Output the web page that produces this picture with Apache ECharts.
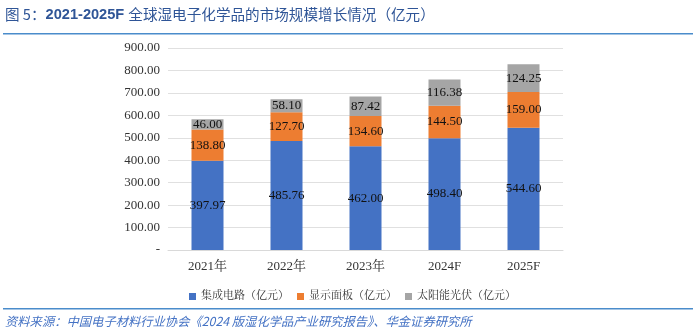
<!DOCTYPE html>
<html><head><meta charset="utf-8">
<script src="https://cdn.jsdelivr.net/npm/echarts@6/dist/echarts.min.js"></script>
<style>html,body{margin:0;padding:0;background:#fff}#c{width:697px;height:336px}</style>
</head><body><div id="c"></div>
<script>
const categories = ['2021年','2022年','2023年','2024F','2025F'];
const seriesNames = ['集成电路（亿元）','显示面板（亿元）','太阳能光伏（亿元）'];
const icValues = [397.97, 485.76, 462.00, 498.40, 544.60];
const panelValues = [138.80, 127.70, 134.60, 144.50, 159.00];
const pvValues = [46.00, 58.10, 87.42, 116.38, 124.25];
const yTicks = {min: 0, max: 900, interval: 100};
const colors = ['#4472C4','#ED7D31','#A5A5A5'];
const serif = '"Liberation Serif","Noto Serif CJK SC","Noto Sans CJK SC",serif';
const chart = echarts.init(document.getElementById('c'));
const lbl = {show:true, position:'inside', color:'#111', fontFamily:serif, fontSize:13, formatter: p => p.value.toFixed(2)};
const mk = (name, data, i) => ({name, type:'bar', stack:'s', data, barWidth:32, itemStyle:{color:colors[i]}, label:lbl});
chart.setOption({
  animation:false,
  grid:{left:168, right:134, top:48, bottom:86},
  legend:{left:291-107, top:286, itemWidth:7, itemHeight:7, itemGap:8, icon:'rect',
    textStyle:{fontFamily:serif, fontSize:11, color:'#333'},
    data:seriesNames},
  xAxis:{type:'category', data:categories, axisTick:{show:false},
    axisLine:{lineStyle:{color:'#d9d9d9'}},
    axisLabel:{fontFamily:serif, fontSize:13, color:'#333', margin:10}},
  yAxis:{type:'value', min:yTicks.min, max:yTicks.max, interval:yTicks.interval,
    axisLine:{show:false}, axisTick:{show:false},
    splitLine:{lineStyle:{color:'#e0e0e0'}},
    axisLabel:{fontFamily:serif, fontSize:13, color:'#333', margin:8,
      formatter: v => v === 0 ? '-' : v.toFixed(2)}},
  series:[mk(seriesNames[0], icValues, 0), mk(seriesNames[1], panelValues, 1), mk(seriesNames[2], pvValues, 2)],
  graphic:[
    {type:'text', left:5, top:7, style:{text:'{a|图 5：}{b|2021-2025F }{a|全球湿电子化学品的市场规模增长情况（亿元）}',
      rich:{a:{fontFamily:'"Noto Sans CJK SC",sans-serif', fontSize:14.6, fill:'#2f5597'},
            b:{fontFamily:'"Liberation Sans",sans-serif', fontSize:14.6, fontWeight:'bold', fill:'#2f5597'}}}},
    {type:'rect', shape:{x:3, y:33, width:690, height:1.5}, style:{fill:'#4a8ccb'}},
    {type:'rect', shape:{x:3, y:308, width:690, height:1.5}, style:{fill:'#4a8ccb'}},
    {type:'text', left:5, top:315, style:{text:'资料来源：中国电子材料行业协会《2024 版湿化学品产业研究报告》、华金证券研究所',
      font:'italic 12.3px "Noto Sans CJK SC",sans-serif', fill:'#4472C4'}}
  ]
});
</script></body></html>
